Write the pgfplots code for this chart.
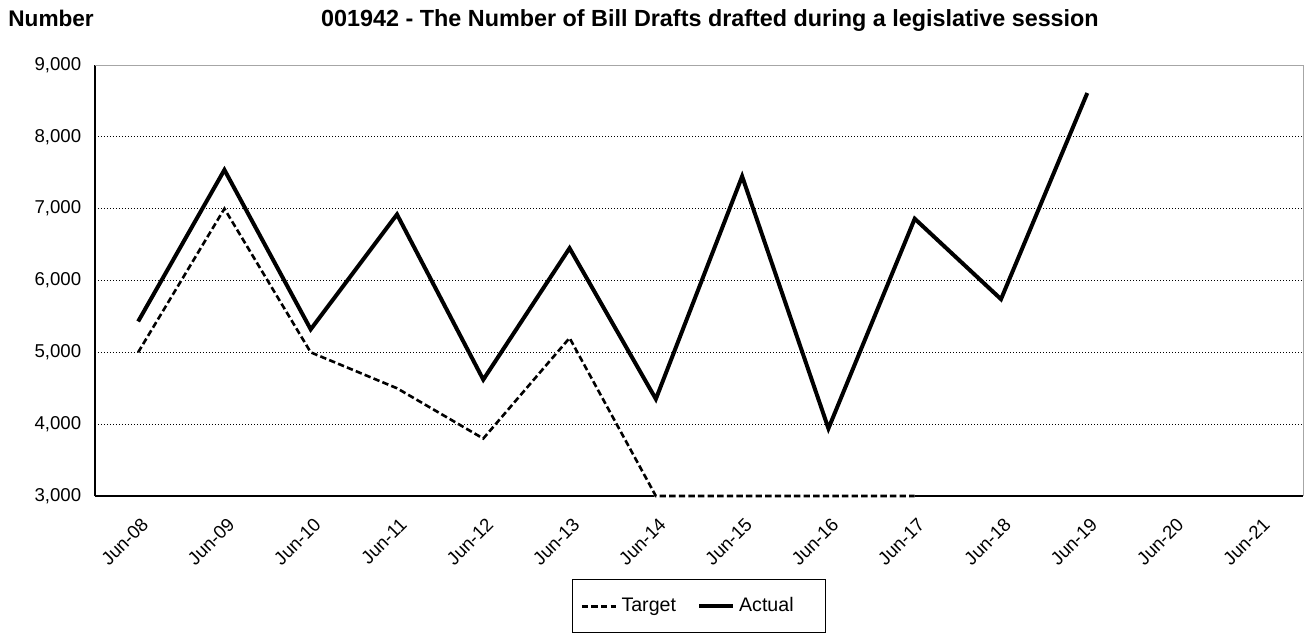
\documentclass[border=0pt]{standalone}
\usepackage{pgfplots}
\pgfplotsset{compat=1.18}
\usepackage{fontspec}
\setmainfont{Liberation Sans}
\begin{document}
\begin{tikzpicture}
\useasboundingbox (0,0) rectangle (654pt,317pt);
\node[anchor=base west, font=\fontsize{11.3}{13}\selectfont\bfseries, inner sep=0pt] at (4pt,304pt) {Number};
\node[anchor=base, font=\fontsize{11.68}{13}\selectfont\bfseries, inner sep=0pt] at (355pt,304pt) {001942 - The Number of Bill Drafts drafted during a legislative session};
\begin{axis}[
  at={(47.5pt,69pt)}, anchor=south west,
  scale only axis, width=604pt, height=215.5pt,
  xmin=-0.5, xmax=13.5, ymin=3000, ymax=9000,
  ytick={3000,4000,5000,6000,7000,8000,9000},
  xtick={0,1,2,3,4,5,6,7,8,9,10,11,12,13},
  xticklabels={Jun-08,Jun-09,Jun-10,Jun-11,Jun-12,Jun-13,Jun-14,Jun-15,Jun-16,Jun-17,Jun-18,Jun-19,Jun-20,Jun-21},
  major tick length=0pt,
  axis x line*=bottom, axis y line*=left,
  axis line style={-, black, line width=1pt},
  ymajorgrids,
  major grid style={black, line width=0.5pt, dash pattern=on 0.5pt off 1pt},
  tick label style={font=\fontsize{9.3}{11}\selectfont},
  yticklabel style={anchor=east, xshift=-3.4pt},
  xticklabel style={xshift=1pt, yshift=-5.5pt, rotate=45, anchor=north east},
  /pgf/number format/.cd, 1000 sep={,}, assume math mode=true, fixed,
  /pgfplots/.cd,
  clip=false,
  legend columns=2,
  legend style={at={(0.5,-0.256)}, anchor=center, draw=black, line width=0.5pt,
    font=\fontsize{9.8}{11}\selectfont, inner xsep=4pt, inner ysep=7pt,
    /tikz/every even column/.append style={column sep=8.5pt}},
  after end axis/.code={
    \draw[gray!70, line width=0.5pt] (rel axis cs:0,1) -- (rel axis cs:1,1) -- (rel axis cs:1,0);
  },
]
\addplot[black, line width=1.3pt, dash pattern=on 3.2pt off 1.6pt,
  preaction={draw, white, solid, line width=1.5pt}]
  coordinates {(0,5000) (1,7000) (2,5000) (3,4500) (4,3800) (5,5200) (6,3000) (7,3000) (8,3000) (9,3000)};
\addlegendentry{Target}
\addplot[black, line width=2pt]
  coordinates {(0,5430) (1,7540) (2,5320) (3,6920) (4,4620) (5,6450) (6,4350) (7,7450) (8,3940) (9,6860) (10,5740) (11,8610)};
\addlegendentry{Actual\hspace*{10pt}}
\end{axis}
\end{tikzpicture}
\end{document}
